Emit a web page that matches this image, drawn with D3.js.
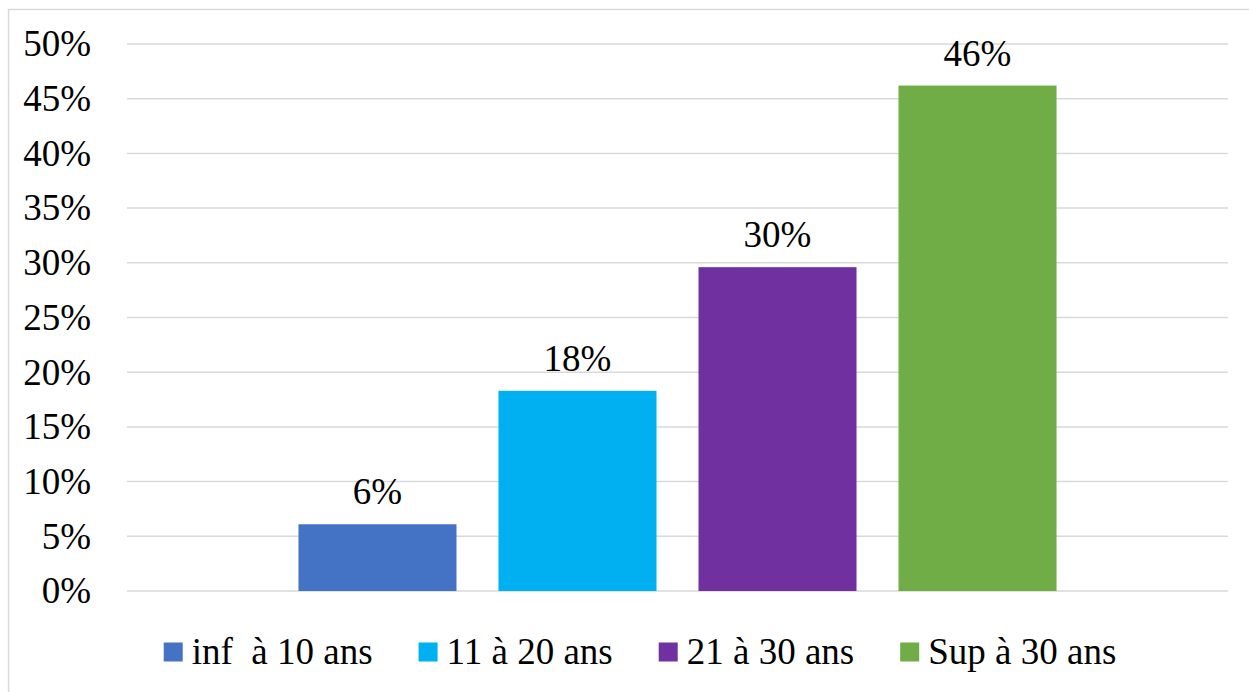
<!DOCTYPE html>
<html>
<head>
<meta charset="utf-8">
<script src="https://cdn.jsdelivr.net/npm/d3@7"></script>
<style>
  html, body { margin: 0; padding: 0; background: #fff; }
  svg { display: block; }
</style>
</head>
<body>
<svg id="chart" width="1249" height="692"></svg>
<script>
// Age groups (one cluster, four series)
const seriesNames = ["inf  à 10 ans", "11 à 20 ans", "21 à 30 ans", "Sup à 30 ans"];
const seriesValues = [0.061, 0.183, 0.296, 0.462];
const seriesColors = ["#4472C4", "#00B0F0", "#7030A0", "#70AD47"];
const yTicks = [0, 0.05, 0.10, 0.15, 0.20, 0.25, 0.30, 0.35, 0.40, 0.45, 0.50];

const FONT = "Liberation Serif";
const FS = 37;
const W = 1249, H = 692;
const margin = { left: 127, right: 21, top: 44, bottom: 101 };
const svg = d3.select("#chart");

// chart frame
svg.append("rect")
  .attr("x", 8.5).attr("y", 9.5)
  .attr("width", W + 10).attr("height", H + 10)
  .attr("fill", "none").attr("stroke", "#d9d9d9").attr("stroke-width", 1.5);

const x0 = d3.scaleBand().domain(["all"])
  .range([margin.left, W - margin.right]).paddingInner(0).paddingOuter(0.2262);
const x1 = d3.scaleBand().domain(seriesNames)
  .range([0, x0.bandwidth()]).paddingInner(0.21).paddingOuter(0);
const y = d3.scaleLinear().domain([0, 0.5]).range([H - margin.bottom, margin.top]);

// gridlines
svg.append("g").selectAll("line").data(yTicks).join("line")
  .attr("x1", margin.left).attr("x2", W - margin.right)
  .attr("y1", d => y(d)).attr("y2", d => y(d))
  .attr("stroke", "#d9d9d9").attr("stroke-width", 1.5);

// y axis labels
const yAxis = d3.axisLeft(y).tickValues(yTicks).tickFormat(d3.format(".0%")).tickSize(0).tickPadding(0);
const gy = svg.append("g").attr("transform", `translate(91,0)`).call(yAxis)
  .attr("font-family", FONT).attr("font-size", FS);
gy.select(".domain").remove();
gy.selectAll("text").attr("fill", "#000").attr("dy", "0.32em");

// bars
const cluster = svg.append("g").attr("transform", `translate(${x0("all")},0)`);
const data = seriesNames.map((n, i) => ({ name: n, value: seriesValues[i], color: seriesColors[i] }));
cluster.selectAll("rect").data(data).join("rect")
  .attr("x", d => x1(d.name))
  .attr("y", d => y(d.value))
  .attr("width", x1.bandwidth())
  .attr("height", d => y(0) - y(d.value))
  .attr("fill", d => d.color);

// value labels
cluster.selectAll("text.val").data(data).join("text")
  .attr("class", "val")
  .attr("x", d => x1(d.name) + x1.bandwidth() / 2)
  .attr("y", d => y(d.value) - 20)
  .attr("text-anchor", "middle")
  .attr("font-family", FONT).attr("font-size", FS).attr("fill", "#000")
  .text(d => d3.format(".0%")(d.value));

// legend
const legend = svg.append("g");
const items = legend.selectAll("g").data(data).join("g");
items.append("rect").attr("width", 19).attr("height", 19).attr("y", -9.5).attr("fill", d => d.color);
items.append("text").attr("x", 28).attr("dy", "0.33em")
  .attr("font-family", FONT).attr("font-size", FS).attr("fill", "#000")
  .attr("xml:space", "preserve").style("white-space", "pre").text(d => d.name);
let cx = 0;
items.each(function () {
  const w = this.getBBox().width;
  d3.select(this).attr("transform", `translate(${cx},0)`);
  cx += w + 46;
});
const total = cx - 46;
legend.attr("transform", `translate(${640 - total / 2},652)`);
</script>
</body>
</html>
